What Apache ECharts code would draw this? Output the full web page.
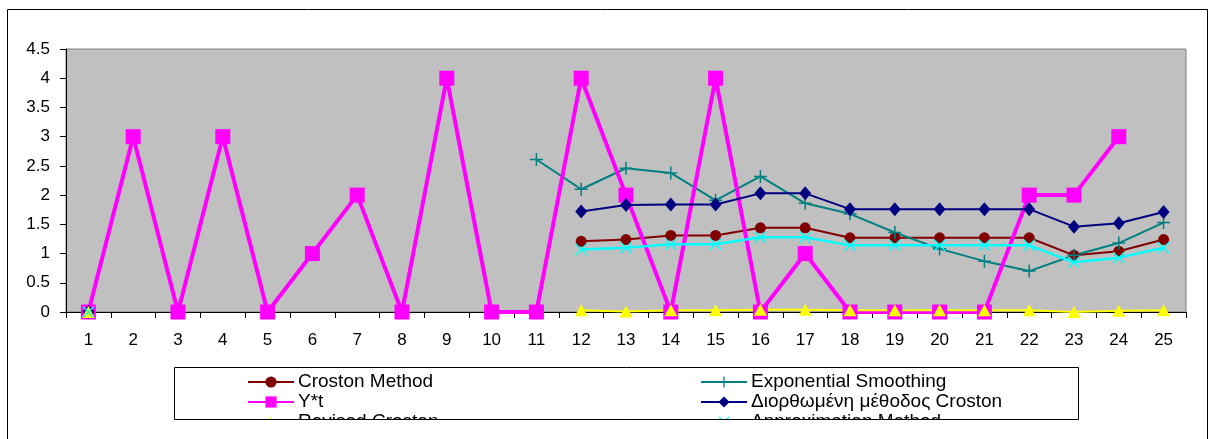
<!DOCTYPE html>
<html>
<head>
<meta charset="utf-8">
<script src="https://cdn.jsdelivr.net/npm/echarts@6/dist/echarts.min.js"></script>
<style>
html,body{margin:0;padding:0;background:#fff;}
#chart{width:1215px;height:439px;}
</style>
</head>
<body>
<div id="chart"></div>
<script>
// ---- data ----
var categories = ['1','2','3','4','5','6','7','8','9','10','11','12','13','14','15','16','17','18','19','20','21','22','23','24','25'];
var yTicks = ['0','0.5','1','1.5','2','2.5','3','3.5','4','4.5'];
var seriesNames = ['Croston Method','Exponential Smoothing','Y*t','Διορθωμένη μέθοδος Croston','Revised Croston','Approximation Method'];
var crostonMethod = [0,null,null,null,null,null,null,null,null,null,null,1.21,1.24,1.31,1.31,1.44,1.44,1.27,1.27,1.27,1.27,1.27,0.97,1.04,1.24];
var exponentialSmoothing = [0,null,null,null,null,null,null,null,null,null,2.61,2.10,2.46,2.38,1.91,2.32,1.86,1.68,1.36,1.08,0.87,0.70,0.97,1.18,1.53];
var yStar = [0,3,0,3,0,1,2,0,4,0,0,4,2,0,4,0,1,0,0,0,0,2,2,3,null];
var correctedCroston = [0,null,null,null,null,null,null,null,null,null,null,1.72,1.83,1.84,1.84,2.03,2.03,1.76,1.76,1.76,1.76,1.76,1.46,1.52,1.71];
var revisedCroston = [0,null,null,null,null,null,null,null,null,null,null,0.03,0.01,0.03,0.03,0.04,0.04,0.03,0.03,0.03,0.03,0.03,0.0,0.02,0.03];
var approximationMethod = [0,null,null,null,null,null,null,null,null,null,null,1.07,1.10,1.16,1.16,1.28,1.28,1.14,1.14,1.14,1.14,1.14,0.85,0.93,1.10];

var PLUS = 'path://M5.3,0H6.7V5.3H12V6.7H6.7V12H5.3V6.7H0V5.3H5.3Z';
var CROSS = 'path://M0,1L1,0L6,5L11,0L12,1L7,6L12,11L11,12L6,7L1,12L0,11L5,6Z';

var FONT = '"Liberation Sans", Arial, sans-serif';
var chart = echarts.init(document.getElementById('chart'), null, {renderer:'canvas'});

function mk(name, data, color, width, symbol, size) {
  return {
    name: name, type: 'line', data: data,
    connectNulls: false,
    lineStyle: {color: color, width: width},
    itemStyle: {color: color, borderWidth: 0},
    symbol: symbol, symbolSize: size, showSymbol: true,
    emphasis: {disabled: true},
    animation: false
  };
}

var legendText = {fontFamily: FONT, fontSize: 19, color: '#000', lineHeight: 20, padding:[0,0,0,-1]};

var option = {
  animation: false,
  backgroundColor: '#fff',
  grid: {
    left: 66, right: 29, top: 49, bottom: 127,
    show: true, backgroundColor: '#C0C0C0', borderColor: '#808080', borderWidth: 1,
    containLabel: false
  },
  xAxis: {
    type: 'category', data: categories, boundaryGap: true,
    axisLine: {show: true, lineStyle: {color: '#000', width: 1}},
    axisTick: {show: true, inside: false, length: 6, lineStyle: {color: '#000'}},
    axisLabel: {fontFamily: FONT, fontSize: 17, color: '#000', margin: 20, interval: 0},
    splitLine: {show: false}
  },
  yAxis: {
    type: 'value', min: 0, max: 4.5, interval: 0.5,
    axisLine: {show: true, lineStyle: {color: '#000', width: 1}},
    axisTick: {show: true, inside: false, length: 6, lineStyle: {color: '#000'}},
    axisLabel: {fontFamily: FONT, fontSize: 17, color: '#000', margin: 16,
      formatter: function(v){ var s = String(Math.round(v*10)/10); return yTicks.indexOf(s) >= 0 ? s : s; }},
    splitLine: {show: false}
  },
  legend: [
    {
      orient: 'vertical', left: 247, top: 372, padding: 0,
      itemWidth: 46, itemHeight: 14, itemGap: 0,
      data: [seriesNames[0], seriesNames[2], seriesNames[4]],
      textStyle: legendText, selectedMode: false
    },
    {
      orient: 'vertical', left: 700, top: 372, padding: 0,
      itemWidth: 46, itemHeight: 14, itemGap: 0,
      data: [seriesNames[1], seriesNames[3], seriesNames[5]],
      textStyle: legendText, selectedMode: false
    }
  ],
  graphic: [
    {type: 'rect', z: 100, silent: true,
     shape: {x: 175, y: 420, width: 904, height: 25},
     style: {fill: '#fff', stroke: null}},
    {type: 'rect', z: 101, silent: true,
     shape: {x: 174.5, y: 367.5, width: 904, height: 52},
     style: {fill: 'none', stroke: '#000', lineWidth: 1}},
    {type: 'rect', z: 101, silent: true,
     shape: {x: 7.5, y: 9.5, width: 1200, height: 445},
     style: {fill: 'none', stroke: '#000', lineWidth: 1}}
  ],
  series: [
    mk(seriesNames[0], crostonMethod, '#800000', 2, 'circle', 11),
    mk(seriesNames[1], exponentialSmoothing, '#008080', 2, PLUS, 13),
    mk(seriesNames[2], yStar, '#FF00FF', 4, 'rect', 15),
    mk(seriesNames[3], correctedCroston, '#000080', 2, 'diamond', [12, 14]),
    mk(seriesNames[4], revisedCroston, '#FFFF00', 2, 'triangle', [13, 12]),
    mk(seriesNames[5], approximationMethod, '#00FFFF', 2.5, CROSS, 12)
  ]
};
chart.setOption(option);
</script>
</body>
</html>
